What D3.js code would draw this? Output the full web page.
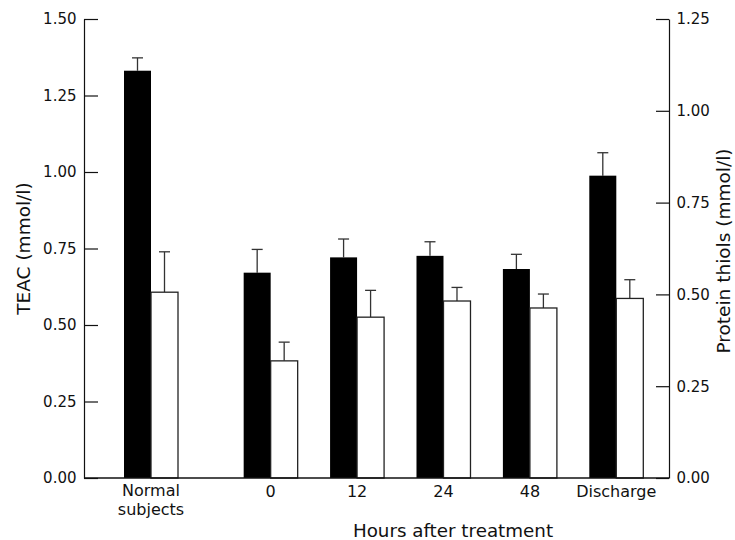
<!DOCTYPE html>
<html>
<head>
<meta charset="utf-8">
<script src="https://cdn.jsdelivr.net/npm/d3@7"></script>
<style>
  body { margin: 0; background: #fff; }
</style>
</head>
<body>
<div id="chart"></div>
<script>
// Data
const groups = ["Normal subjects", "0", "12", "24", "48", "Discharge"];
const teac = [1.331, 0.671, 0.721, 0.726, 0.683, 0.988];       // left axis, black bars
const teacErr = [0.042, 0.076, 0.060, 0.046, 0.048, 0.075];
const thiols = [0.506, 0.319, 0.438, 0.482, 0.463, 0.489];     // right axis, white bars
const thiolsErr = [0.110, 0.051, 0.073, 0.037, 0.038, 0.051];
const leftTicks = [0, 0.25, 0.5, 0.75, 1.0, 1.25, 1.5];
const rightTicks = [0, 0.25, 0.5, 0.75, 1.0, 1.25];

const W = 735, H = 540;
const font = "'DejaVu Sans', Verdana, sans-serif";

const svg = d3.select("#chart").append("svg")
  .attr("width", W)
  .attr("height", H)
  .style("font-family", font);

const axisL = 84, axisR = 669, yTop = 19, yBase = 478;

const yL = d3.scaleLinear().domain([0, 1.5]).range([yBase, yTop]);
const yR = d3.scaleLinear().domain([0, 1.25]).range([yBase, yTop]);

// "Normal subjects" stands apart from the time points
const gap = 0.385;
const slot = i => i === 0 ? 0 : i + gap;
const x = d3.scaleLinear().domain([0, groups.length - 1 + gap]).range([151, 616.3]);

const barW = 27, capW = 11;

// Left axis
svg.append("g")
  .attr("transform", `translate(${axisL},0)`)
  .call(d3.axisLeft(yL).tickValues(leftTicks).tickFormat(d3.format(".2f"))
    .tickSizeInner(-14).tickSizeOuter(0).tickPadding(7.5))
  .call(g => g.selectAll("text").style("font-size", "15px").attr("fill", "#111").style("font-family", font))
  .call(g => g.selectAll("line, path").attr("stroke", "#111").attr("stroke-width", 1.2));

// Right axis
svg.append("g")
  .attr("transform", `translate(${axisR},0)`)
  .call(d3.axisRight(yR).tickValues(rightTicks).tickFormat(d3.format(".2f"))
    .tickSizeInner(-13).tickSizeOuter(0).tickPadding(7.5))
  .call(g => g.selectAll("text").style("font-size", "15px").attr("fill", "#111").style("font-family", font))
  .call(g => g.selectAll("line, path").attr("stroke", "#111").attr("stroke-width", 1.2));

// Error bars (upward only)
const err = svg.append("g").attr("stroke", "#333").attr("stroke-width", 1.3);
groups.forEach((g, i) => {
  const cx0 = x(slot(i)) - barW / 2;
  const cx1 = x(slot(i)) + barW / 2;
  const t0 = yL(teac[i]), e0 = yL(teac[i] + teacErr[i]);
  err.append("line").attr("x1", cx0).attr("x2", cx0).attr("y1", t0).attr("y2", e0);
  err.append("line").attr("x1", cx0 - capW / 2).attr("x2", cx0 + capW / 2).attr("y1", e0).attr("y2", e0);
  const t1 = yR(thiols[i]), e1 = yR(thiols[i] + thiolsErr[i]);
  err.append("line").attr("x1", cx1).attr("x2", cx1).attr("y1", t1).attr("y2", e1);
  err.append("line").attr("x1", cx1 - capW / 2).attr("x2", cx1 + capW / 2).attr("y1", e1).attr("y2", e1);
});

// Black bars: TEAC
svg.selectAll("rect.teac")
  .data(groups)
  .join("rect")
  .attr("class", "teac")
  .attr("x", (d, i) => x(slot(i)) - barW)
  .attr("y", (d, i) => yL(teac[i]))
  .attr("width", barW)
  .attr("height", (d, i) => yBase - yL(teac[i]))
  .attr("fill", "#000");

// White bars: protein thiols
svg.selectAll("rect.thiol")
  .data(groups)
  .join("rect")
  .attr("class", "thiol")
  .attr("x", (d, i) => x(slot(i)))
  .attr("y", (d, i) => yR(thiols[i]))
  .attr("width", barW)
  .attr("height", (d, i) => yBase - yR(thiols[i]))
  .attr("fill", "#fff")
  .attr("stroke", "#222")
  .attr("stroke-width", 1.3);

// Baseline
svg.append("line")
  .attr("x1", axisL).attr("x2", axisR)
  .attr("y1", yBase).attr("y2", yBase)
  .attr("stroke", "#111").attr("stroke-width", 1.3);

// Category labels
const lab = svg.append("g").style("font-size", "16px").attr("fill", "#111").attr("text-anchor", "middle");
groups.forEach((g, i) => {
  const t = lab.append("text").attr("x", x(slot(i))).attr("y", 497);
  if (g === "Normal subjects") {
    t.append("tspan").attr("x", x(slot(i))).attr("y", 496).text("Normal");
    t.append("tspan").attr("x", x(slot(i))).attr("dy", 18.5).text("subjects");
  } else {
    t.text(g);
  }
});

// Axis titles
svg.append("text")
  .attr("x", 453).attr("y", 537)
  .attr("text-anchor", "middle")
  .style("font-size", "18.3px").attr("fill", "#111")
  .text("Hours after treatment");

svg.append("text")
  .attr("transform", "translate(29.5,248.5) rotate(-90)")
  .attr("text-anchor", "middle")
  .style("font-size", "18.5px").attr("fill", "#111")
  .text("TEAC (mmol/l)");

svg.append("text")
  .attr("transform", "translate(729.5,251) rotate(-90)")
  .attr("text-anchor", "middle")
  .style("font-size", "18.5px").attr("fill", "#111")
  .text("Protein thiols (mmol/l)");
</script>
</body>
</html>
